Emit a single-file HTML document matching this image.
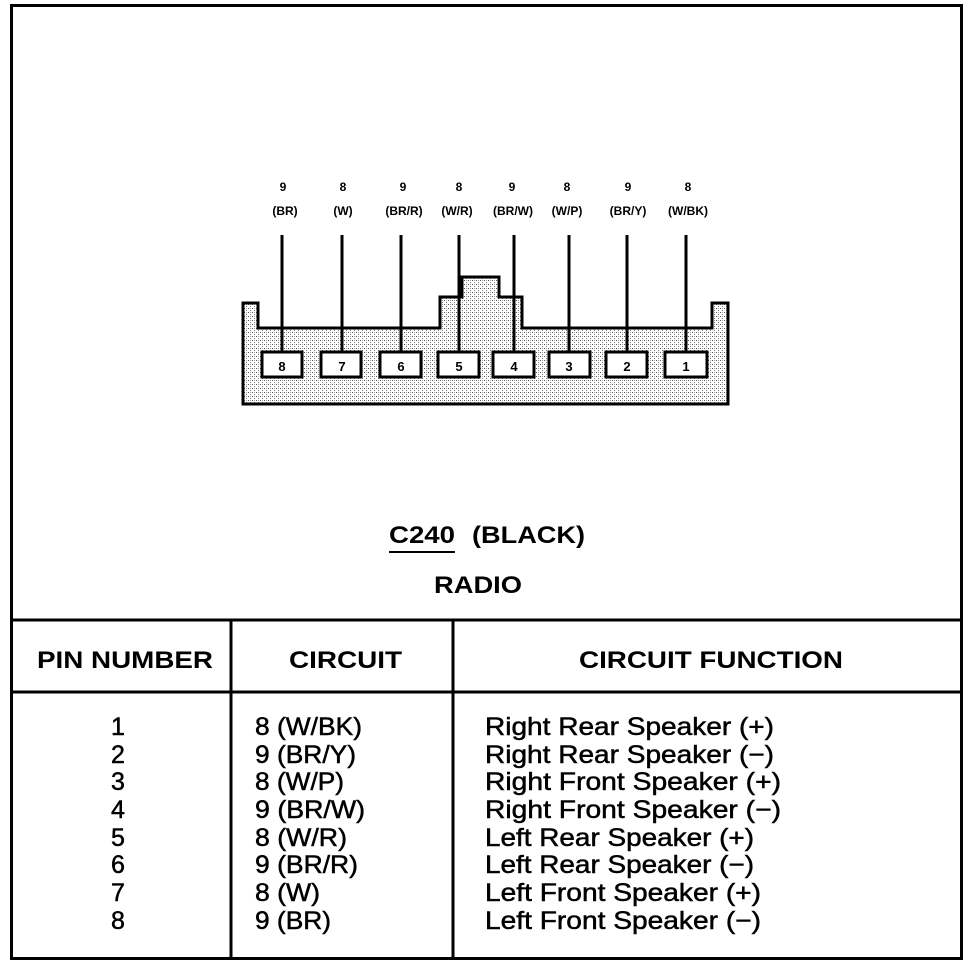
<!DOCTYPE html>
<html><head><style>html,body{margin:0;padding:0;background:#fff}svg{display:block}</style></head><body>
<svg width="976" height="964" xmlns="http://www.w3.org/2000/svg" font-family="Liberation Sans, Arial, sans-serif">
<defs><pattern id="d" width="4" height="4" patternUnits="userSpaceOnUse"><rect width="4" height="4" fill="#fff"/><rect x="0" y="0" width="1" height="1" fill="#555"/><rect x="2" y="2" width="1" height="1" fill="#777"/><rect x="2" y="0" width="1" height="1" fill="#aaa"/></pattern></defs>
<rect x="11.5" y="5.5" width="950" height="953" fill="none" stroke="#000" stroke-width="3"/>
<line x1="11" y1="620" x2="962" y2="620" stroke="#000" stroke-width="3"/>
<line x1="11" y1="692" x2="962" y2="692" stroke="#000" stroke-width="3"/>
<line x1="231" y1="620" x2="231" y2="958" stroke="#000" stroke-width="3"/>
<line x1="453" y1="620" x2="453" y2="958" stroke="#000" stroke-width="3"/>
<path d="M243,303 L258,303 L258,328 L440,328 L440,297 L462,297 L462,277 L499,277 L499,297 L522,297 L522,328 L712,328 L712,303 L728,303 L728,404 L243,404 Z" fill="url(#d)" stroke="#000" stroke-width="3"/>
<g stroke="#000" stroke-width="3">
<line x1="282" y1="235" x2="282" y2="355"/><line x1="342" y1="235" x2="342" y2="355"/>
<line x1="401" y1="235" x2="401" y2="355"/><line x1="459" y1="235" x2="459" y2="355"/>
<line x1="514" y1="235" x2="514" y2="355"/><line x1="569" y1="235" x2="569" y2="355"/>
<line x1="627" y1="235" x2="627" y2="355"/><line x1="686" y1="235" x2="686" y2="355"/>
</g>
<g fill="#fff" stroke="#000" stroke-width="3">
<rect x="262" y="352" width="40" height="25"/><rect x="321" y="352" width="40" height="25"/>
<rect x="380" y="352" width="41" height="25"/><rect x="438" y="352" width="41" height="25"/>
<rect x="493" y="352" width="41" height="25"/><rect x="549" y="352" width="41" height="25"/>
<rect x="606" y="352" width="41" height="25"/><rect x="665" y="352" width="42" height="25"/>
</g>
<g font-size="13" font-weight="bold" text-anchor="middle">
<text x="282" y="371">8</text><text x="342" y="371">7</text><text x="401" y="371">6</text><text x="459" y="371">5</text>
<text x="514" y="371">4</text><text x="569" y="371">3</text><text x="627" y="371">2</text><text x="686" y="371">1</text>
</g>
<g font-size="12" font-weight="bold" text-anchor="middle">
<text x="283" y="191">9</text><text x="343" y="191">8</text><text x="403" y="191">9</text><text x="459" y="191">8</text>
<text x="512" y="191">9</text><text x="567" y="191">8</text><text x="628" y="191">9</text><text x="688" y="191">8</text>
<text x="285" y="215">(BR)</text><text x="343" y="215">(W)</text><text x="404" y="215">(BR/R)</text><text x="457" y="215">(W/R)</text>
<text x="513" y="215">(BR/W)</text><text x="567" y="215">(W/P)</text><text x="628" y="215">(BR/Y)</text><text x="688" y="215">(W/BK)</text>
</g>
<g font-weight="bold" font-size="24">
<text x="389" y="543" textLength="66" lengthAdjust="spacingAndGlyphs">C240</text>
<text x="472" y="543" textLength="113" lengthAdjust="spacingAndGlyphs">(BLACK)</text>
<text x="434" y="593" textLength="88" lengthAdjust="spacingAndGlyphs">RADIO</text>
<text x="37" y="668" textLength="176" lengthAdjust="spacingAndGlyphs">PIN NUMBER</text>
<text x="289" y="668" textLength="113" lengthAdjust="spacingAndGlyphs">CIRCUIT</text>
<text x="579" y="668" textLength="264" lengthAdjust="spacingAndGlyphs">CIRCUIT FUNCTION</text>
</g>
<line x1="389" y1="552" x2="455" y2="552" stroke="#000" stroke-width="2"/>
<g font-size="25" stroke="#000" stroke-width="0.5">
<g text-anchor="middle">
<text x="118" y="735">1</text><text x="118" y="763">2</text><text x="118" y="790">3</text><text x="118" y="818">4</text>
<text x="118" y="846">5</text><text x="118" y="873">6</text><text x="118" y="901">7</text><text x="118" y="929">8</text>
</g>
<text x="255" y="735" textLength="107" lengthAdjust="spacingAndGlyphs">8 (W/BK)</text>
<text x="255" y="763" textLength="101" lengthAdjust="spacingAndGlyphs">9 (BR/Y)</text>
<text x="255" y="790" textLength="89" lengthAdjust="spacingAndGlyphs">8 (W/P)</text>
<text x="255" y="818" textLength="110" lengthAdjust="spacingAndGlyphs">9 (BR/W)</text>
<text x="255" y="846" textLength="92" lengthAdjust="spacingAndGlyphs">8 (W/R)</text>
<text x="255" y="873" textLength="103" lengthAdjust="spacingAndGlyphs">9 (BR/R)</text>
<text x="255" y="901" textLength="65" lengthAdjust="spacingAndGlyphs">8 (W)</text>
<text x="255" y="929" textLength="76" lengthAdjust="spacingAndGlyphs">9 (BR)</text>
<text x="485" y="735" textLength="289" lengthAdjust="spacingAndGlyphs">Right Rear Speaker (+)</text>
<text x="485" y="763" textLength="289" lengthAdjust="spacingAndGlyphs">Right Rear Speaker (−)</text>
<text x="485" y="790" textLength="296" lengthAdjust="spacingAndGlyphs">Right Front Speaker (+)</text>
<text x="485" y="818" textLength="296" lengthAdjust="spacingAndGlyphs">Right Front Speaker (−)</text>
<text x="485" y="846" textLength="269" lengthAdjust="spacingAndGlyphs">Left Rear Speaker (+)</text>
<text x="485" y="873" textLength="269" lengthAdjust="spacingAndGlyphs">Left Rear Speaker (−)</text>
<text x="485" y="901" textLength="276" lengthAdjust="spacingAndGlyphs">Left Front Speaker (+)</text>
<text x="485" y="929" textLength="276" lengthAdjust="spacingAndGlyphs">Left Front Speaker (−)</text>
</g>
</svg>
</body></html>
